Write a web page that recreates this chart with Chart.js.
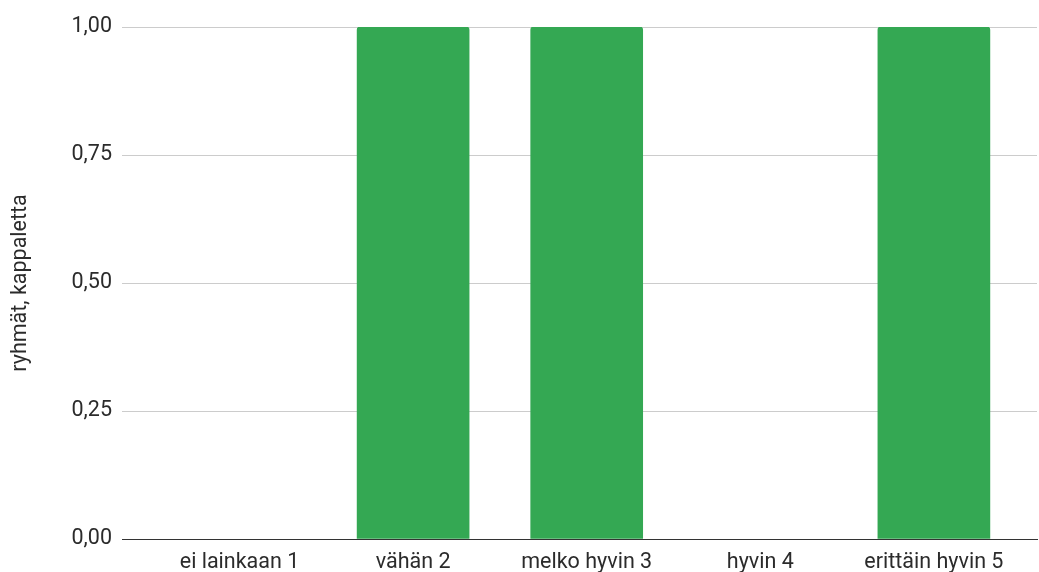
<!DOCTYPE html>
<html>
<head>
<meta charset="utf-8">
<script src="https://cdn.jsdelivr.net/npm/chart.js@4"></script>
<style>
  html, body { margin: 0; padding: 0; background: #fff; }
  #wrap { width: 1039px; height: 572px; }
</style>
</head>
<body>
<div id="wrap"><canvas id="chart" width="1039" height="572"></canvas></div>
<script>
// data
const categories = ['ei lainkaan 1', 'vähän 2', 'melko hyvin 3', 'hyvin 4', 'erittäin hyvin 5'];
const groups = [0, 1, 1, 0, 1];
const yTicks = [0, 0.25, 0.5, 0.75, 1];
const yTitle = 'ryhmät, kappaletta';

const fontFamily = 'Roboto, "Liberation Sans", Arial, sans-serif';
const fontSize = 21.5;
const textColor = '#2b2b2b';
const barColor = '#34A853';

// x is a linear scale so the plot can extend past the outer categories
const points = categories.map((c, i) => ({ x: i + 1, y: groups[i] }));

const ctx = document.getElementById('chart').getContext('2d');
const mychart = new Chart(ctx, {
    type: 'bar',
    data: {
        datasets: [{
            data: points,
            // zero bars are not shown at all in the original
            backgroundColor: c => (c.raw && c.raw.y > 0 ? barColor : 'rgba(0,0,0,0)'),
            barThickness: 112,
            borderRadius: { topLeft: 3, topRight: 3 },
            borderSkipped: 'start'
        }]
    },
    options: {
        responsive: false,
        animation: false,
        layout: { padding: { top: 27, right: 2, left: 0, bottom: 0 } },
        plugins: {
            legend: { display: false },
            tooltip: { enabled: false }
        },
        scales: {
            x: {
                type: 'linear',
                offset: false,
                min: 0.323,
                max: 5.594,
                afterBuildTicks: function (scale) {
                    scale.ticks = categories.map((c, i) => ({ value: i + 1 }));
                },
                afterFit: function (scale) { scale.height = 33; },
                grid: { display: false, drawTicks: false, offset: false },
                border: { display: true, color: '#333333', width: 1 },
                ticks: {
                    padding: 11,
                    maxRotation: 0,
                    autoSkip: false,
                    color: textColor,
                    font: { family: fontFamily, size: fontSize },
                    callback: function (value) {
                        return categories[Math.round(value) - 1] || '';
                    }
                }
            },
            y: {
                min: 0,
                max: 1,
                afterBuildTicks: function (scale) {
                    scale.ticks = yTicks.map(v => ({ value: v }));
                },
                afterFit: function (scale) { scale.width = 122; },
                grid: { color: '#cccccc', drawTicks: false, lineWidth: 1 },
                border: { display: false },
                ticks: {
                    padding: 10,
                    color: textColor,
                    font: { family: fontFamily, size: fontSize },
                    callback: function (value) {
                        return value.toFixed(2).replace('.', ',');
                    }
                },
                title: {
                    display: true,
                    text: yTitle,
                    color: textColor,
                    font: { family: fontFamily, size: fontSize },
                    padding: { top: 8, bottom: 0 }
                }
            }
        }
    }
});
</script>
</body>
</html>
